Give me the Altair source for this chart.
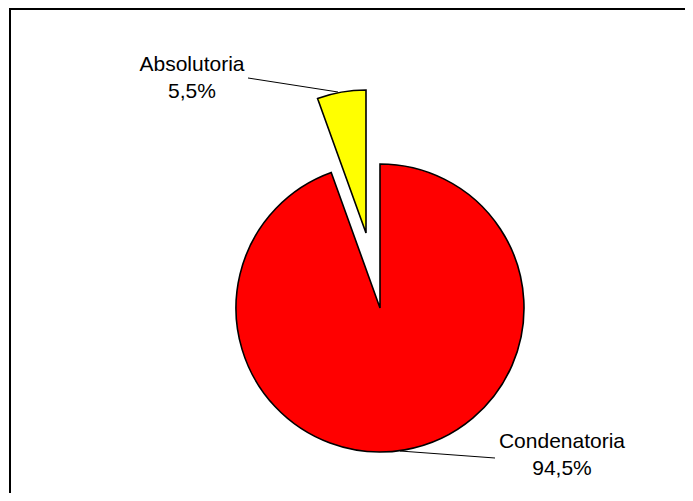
import altair as alt
import pandas as pd

categories = ["Condenatoria", "Absolutoria"]
values = [94.5, 5.5]
colors = ["#FF0000", "#FFFF00"]

df = pd.DataFrame({"category": categories, "value": values})

W, H = 677, 485

# compute start / end fractions of each slice
base = alt.Chart(df).transform_calculate(
    order="indexof(['Condenatoria','Absolutoria'], datum.category)"
).transform_joinaggregate(
    total="sum(value)"
).transform_window(
    cum="sum(value)", sort=[alt.SortField("order")], frame=[None, 0]
).transform_calculate(
    end="datum.cum / datum.total",
    start="(datum.cum - datum.value) / datum.total",
    label="datum.category + '\\n' + replace(format(datum.value / datum.total, '.1%'), '.', ',')",
)

theta = alt.Theta("start:Q", scale=alt.Scale(domain=[0, 1], range=[0, 6.283185307179586]))
theta2 = alt.Theta2("end:Q")
color = alt.Color("category:N", scale=alt.Scale(domain=categories, range=colors), legend=None)

red = base.transform_filter(alt.datum.category == "Condenatoria").mark_arc(
    radius=144, stroke="black", strokeWidth=1.6
).encode(theta=theta, theta2=theta2, color=color, x=alt.value(372), y=alt.value(300))

yellow = base.transform_filter(alt.datum.category == "Absolutoria").mark_arc(
    radius=143, stroke="black", strokeWidth=1.6
).encode(theta=theta, theta2=theta2, color=color, x=alt.value(358), y=alt.value(225))

lab_a = base.transform_filter(alt.datum.category == "Absolutoria").mark_text(
    font="Liberation Sans", fontSize=21, lineBreak="\n", lineHeight=27,
    align="center", baseline="alphabetic", color="black"
).encode(text="label:N", x=alt.value(184), y=alt.value(62.7))

lab_c = base.transform_filter(alt.datum.category == "Condenatoria").mark_text(
    font="Liberation Sans", fontSize=21, lineBreak="\n", lineHeight=27,
    align="center", baseline="alphabetic", color="black"
).encode(text="label:N", x=alt.value(554), y=alt.value(439.7))

lead_a = base.transform_filter(alt.datum.category == "Absolutoria").mark_rule(
    color="black", strokeWidth=1
).encode(x=alt.value(240), y=alt.value(70), x2=alt.value(330), y2=alt.value(84))

lead_c = base.transform_filter(alt.datum.category == "Condenatoria").mark_rule(
    color="black", strokeWidth=1
).encode(x=alt.value(392), y=alt.value(443), x2=alt.value(487), y2=alt.value(450))

# chart frame: only its left and top edges fall inside the window
frame = alt.Chart(pd.DataFrame({"f": [0]})).mark_rect(
    fillOpacity=0, stroke="black", strokeWidth=2, color="black"
).encode(
    x=alt.value(2), y=alt.value(1), x2=alt.value(W + 40), y2=alt.value(H + 40)
)

chart = alt.layer(
    frame, lead_a, lead_c, red, yellow, lab_a, lab_c
).properties(
    width=W, height=H, autosize=alt.AutoSizeParams(type="none"), padding=0,
    background="white"
).configure_view(stroke="transparent", strokeWidth=0, clip=True)

chart.save("out.html", embed_options={"renderer": "svg", "actions": False})
